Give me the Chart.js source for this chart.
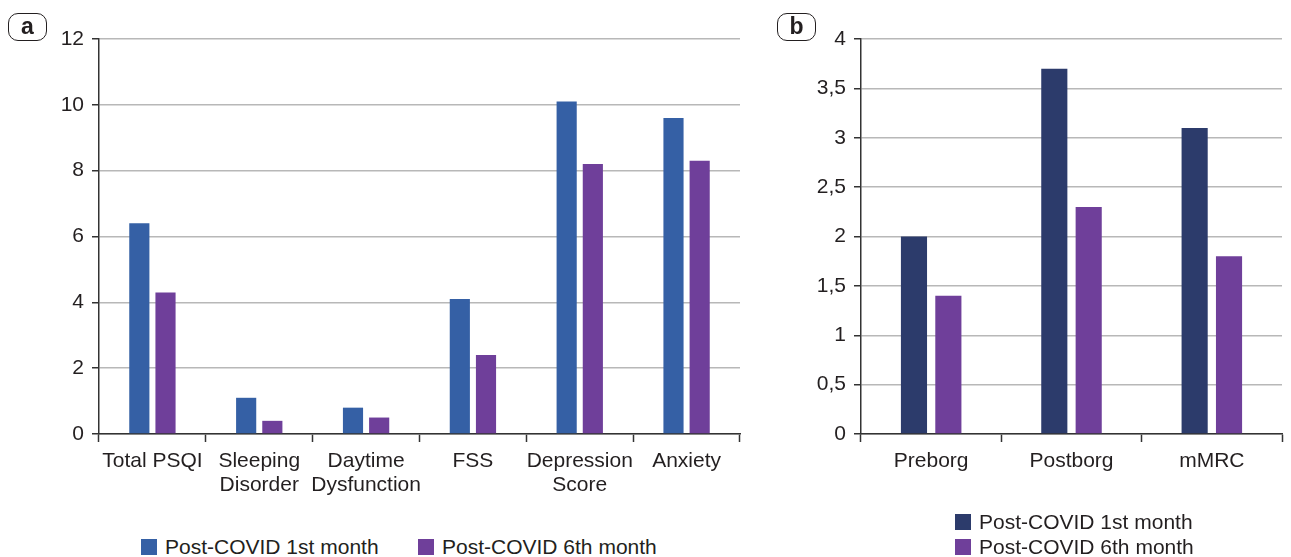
<!DOCTYPE html>
<html>
<head>
<meta charset="utf-8">
<script src="https://cdn.jsdelivr.net/npm/chart.js@4.4.0/dist/chart.umd.min.js"></script>
<style>
  body { margin: 0; background: #fff; font-family: "Liberation Sans", Arial, sans-serif; color: #231f20; }
  #wrap { position: relative; width: 1291px; height: 557px; overflow: hidden; }
  .tag { position: absolute; width: 39px; height: 28px; border: 1.5px solid #231f20; border-radius: 10px;
         font-weight: bold; font-size: 23px; line-height: 25px; text-align: center; box-sizing: border-box; }
  .leg { position: absolute; font-size: 21px; line-height: 24px; white-space: nowrap; }
  .leg span.box { display: inline-block; width: 16px; height: 16px; vertical-align: -1px; margin-right: 8px; }
</style>
</head>
<body>
<div id="wrap">
  <div style="position:absolute;left:0;top:0;width:760px;height:520px"><canvas id="chartA"></canvas></div>
  <div style="position:absolute;left:760px;top:0;width:531px;height:520px"><canvas id="chartB"></canvas></div>
  <div class="tag" style="left:8px;top:13px">a</div>
  <div class="tag" style="left:777px;top:13px">b</div>
  <div class="leg" style="left:141px;top:535px"><span class="box" style="background:#3560a5"></span>Post-COVID 1st month</div>
  <div class="leg" style="left:418px;top:535px"><span class="box" style="background:#6f3f9a"></span>Post-COVID 6th month</div>
  <div class="leg" style="left:955px;top:510px"><span class="box" style="background:#2c3b6b"></span>Post-COVID 1st month</div>
  <div class="leg" style="left:955px;top:535px"><span class="box" style="background:#6f3f9a"></span>Post-COVID 6th month</div>
</div>
<script>
// panel a
const labelsA = ["Total PSQI", ["Sleeping", "Disorder"], ["Daytime", "Dysfunction"], "FSS", ["Depression", "Score"], "Anxiety"];
const month1A = [6.4, 1.1, 0.8, 4.1, 10.1, 9.6];
const month6A = [4.3, 0.4, 0.5, 2.4, 8.2, 8.3];
const ticksA = [0, 2, 4, 6, 8, 10, 12];

// panel b
const labelsB = ["Preborg", "Postborg", "mMRC"];
const month1B = [2.0, 3.7, 3.1];
const month6B = [1.4, 2.3, 1.8];
const ticksB = [0, 0.5, 1, 1.5, 2, 2.5, 3, 3.5, 4];

const textColor = "#231f20";
const fontSpec = { family: "'Liberation Sans', Arial, sans-serif", size: 21, lineHeight: 1.15 };

function makeChart(id, labels, d1, d6, col1, ticks, yWidth, padRight, catPct, barPct, fmt) {
    return new Chart(document.getElementById(id), {
        type: "bar",
        data: {
            labels: labels,
            datasets: [
                { label: "Post-COVID 1st month", data: d1, backgroundColor: col1, categoryPercentage: catPct, barPercentage: barPct },
                { label: "Post-COVID 6th month", data: d6, backgroundColor: "#6f3f9a", categoryPercentage: catPct, barPercentage: barPct }
            ]
        },
        options: {
            responsive: false,
            animation: false,
            layout: { padding: { top: 39, right: padRight, left: 0, bottom: 0 } },
            plugins: { legend: { display: false }, tooltip: { enabled: false } },
            scales: {
                x: {
                    grid: { drawOnChartArea: false, drawTicks: true, tickLength: 8, tickColor: "#333", tickWidth: 1.5 },
                    border: { color: "#333", width: 1.5 },
                    ticks: { color: textColor, font: fontSpec, padding: 7, maxRotation: 0, autoSkip: false },
                    afterFit: s => { s.height = 86; }
                },
                y: {
                    min: ticks[0],
                    max: ticks[ticks.length - 1],
                    afterBuildTicks: s => { s.ticks = ticks.map(v => ({ value: v })); },
                    grid: { color: "#b8b8b8", lineWidth: 1.5, tickLength: 7, tickColor: "#333", tickWidth: 1.5 },
                    border: { color: "#333", width: 1.5 },
                    ticks: { color: textColor, font: fontSpec, padding: 8, callback: fmt },
                    afterFit: s => { s.width = yWidth; }
                }
            }
        }
    });
}

function sizeCanvas(id, w, h) {
    const c = document.getElementById(id);
    c.width = w; c.height = h;
    c.style.width = w + "px"; c.style.height = h + "px";
}
sizeCanvas("chartA", 760, 520);
sizeCanvas("chartB", 531, 520);

makeChart("chartA", labelsA, month1A, month6A, "#3560a5", ticksA, 99, 20, 0.49, 0.77, v => String(v));
makeChart("chartB", labelsB, month1B, month6B, "#2c3b6b", ticksB, 101, 9, 0.49, 0.76, v => String(v).replace(".", ","));
</script>
</body>
</html>
